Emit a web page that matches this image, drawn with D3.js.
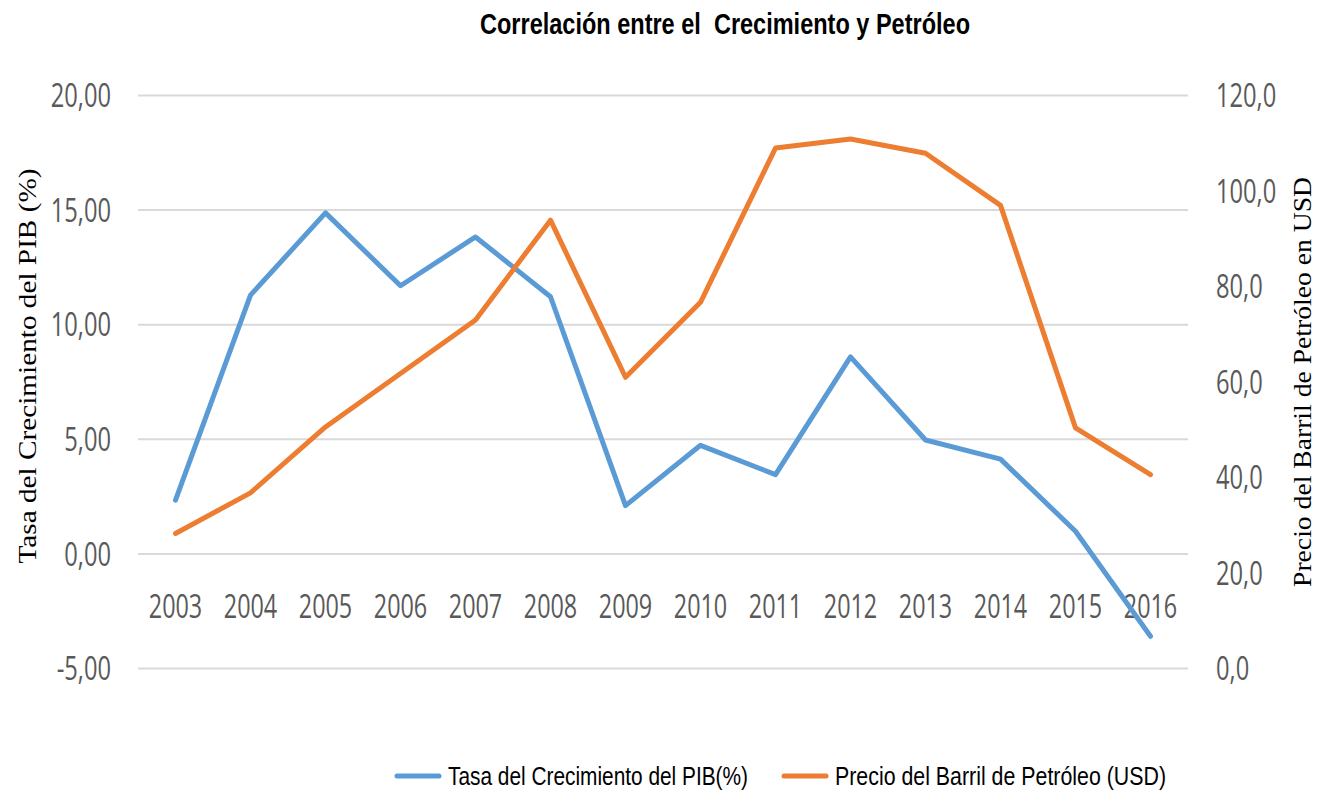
<!DOCTYPE html>
<meta charset="utf-8">
<style type="text/css">
    body { margin: 0; background: #fff; }
    /* lines */
    .line { fill: none; stroke-width: 5; stroke-linejoin: round; stroke-linecap: round; }
    .grid line { stroke: #d9d9d9; stroke-width: 2; }
    .tick-label { font-family: "Open Sans", sans-serif; font-size: 32px; fill: #595959; }
    .axis-title { font-family: "Liberation Serif", serif; font-size: 26px; fill: #000; }
</style>
<body>
</body>
<script src="https://cdn.jsdelivr.net/npm/d3@7"></script>
<script>

    // data
    var years = ["2003", "2004", "2005", "2006", "2007", "2008", "2009", "2010", "2011", "2012", "2013", "2014", "2015", "2016"];
    var pib = [2.35, 11.29, 14.88, 11.70, 13.83, 11.22, 2.11, 4.74, 3.46, 8.60, 4.97, 4.14, 0.99, -3.59];
    var petroleo = [28.3, 36.8, 50.6, 61.8, 73.0, 93.9, 61.0, 76.7, 109.0, 110.9, 107.9, 97.0, 50.4, 40.6];
    var leftTicks = [-5, 0, 5, 10, 15, 20];
    var rightTicks = [0, 20, 40, 60, 80, 100, 120];

    var W = 1325, H = 796;
    var plot = {left: 138, right: 1188, top: 95.5, bottom: 668.6};

    var svg = d3.select("body").append("svg")
        .attr("width", W)
        .attr("height", H);

    // squeeze text horizontally, the picture is narrow-looking
    function squash(sel, f) {
        sel.each(function() {
            var w = this.getComputedTextLength();
            d3.select(this).attr("textLength", w * f).attr("lengthAdjust", "spacingAndGlyphs");
        });
    }
    function fitTo(sel, len) {
        sel.attr("textLength", len).attr("lengthAdjust", "spacingAndGlyphs");
    }

    var x = d3.scaleBand().domain(years).range([plot.left, plot.right]);
    var yL = d3.scaleLinear().domain([-5, 20]).range([plot.bottom, plot.top]);
    var yR = d3.scaleLinear().domain([0, 120]).range([plot.bottom, plot.top]);

    var comma = function(fmt) { return function(v) { return d3.format(fmt)(v).replace(".", ",").replace("−", "-"); }; };

    // gridlines
    svg.append("g").attr("class", "grid")
        .selectAll("line").data(leftTicks).enter().append("line")
        .attr("x1", plot.left).attr("x2", plot.right)
        .attr("y1", function(d) { return yL(d); })
        .attr("y2", function(d) { return yL(d); });

    // left tick labels
    svg.append("g").selectAll("text").data(leftTicks).enter().append("text")
        .attr("class", "tick-label")
        .attr("x", 111)
        .attr("y", function(d) { return yL(d); })
        .attr("dy", "0.36em")
        .attr("text-anchor", "end")
        .text(comma(".2f"))
        .call(squash, 0.74);

    // right tick labels
    svg.append("g").selectAll("text").data(rightTicks).enter().append("text")
        .attr("class", "tick-label")
        .attr("x", 1216)
        .attr("y", function(d) { return yR(d); })
        .attr("dy", "0.36em")
        .attr("text-anchor", "start")
        .text(comma(".1f"))
        .call(squash, 0.74);

    // year labels
    svg.append("g").selectAll("text").data(years).enter().append("text")
        .attr("class", "tick-label")
        .attr("x", function(d) { return x(d) + x.bandwidth() / 2; })
        .attr("y", 618)
        .attr("text-anchor", "middle")
        .text(function(d) { return d; })
        .call(squash, 0.73);

    // lines
    var linePib = d3.line()
        .x(function(d, i) { return x(years[i]) + x.bandwidth() / 2; })
        .y(function(d) { return yL(d); });
    var linePet = d3.line()
        .x(function(d, i) { return x(years[i]) + x.bandwidth() / 2; })
        .y(function(d) { return yR(d); });

    svg.append("path").datum(pib)
        .attr("class", "line").attr("stroke", "#5b9bd5")
        .attr("d", linePib);
    svg.append("path").datum(petroleo)
        .attr("class", "line").attr("stroke", "#ed7d31")
        .attr("d", linePet);

    // title
    svg.append("text")
        .attr("x", 725).attr("y", 34)
        .attr("text-anchor", "middle")
        .style("font-family", "'Liberation Sans', Arial, sans-serif")
        .style("font-weight", "bold")
        .style("font-size", "29px")
        .style("white-space", "pre")
        .text("Correlación entre el  Crecimiento y Petróleo")
        .call(fitTo, 490);

    // axis titles
    svg.append("text")
        .attr("class", "axis-title")
        .attr("transform", "translate(36,366) rotate(-90)")
        .attr("text-anchor", "middle")
        .text("Tasa del Crecimiento del PIB (%)")
        .call(fitTo, 395);

    svg.append("text")
        .attr("class", "axis-title")
        .attr("transform", "translate(1311,382) rotate(-90)")
        .attr("text-anchor", "middle")
        .text("Precio del Barril de Petróleo en USD")
        .call(fitTo, 410);

    // legend
    var legend = [
        {label: "Tasa del Crecimiento del PIB(%)", color: "#5b9bd5", x: 397, len: 300},
        {label: "Precio del Barril de Petróleo (USD)", color: "#ed7d31", x: 784, len: 331}
    ];
    var lg = svg.append("g").selectAll("g").data(legend).enter().append("g")
        .attr("transform", function(d) { return "translate(" + d.x + ",776)"; });
    lg.append("line")
        .attr("x1", 0).attr("x2", 42)
        .attr("stroke", function(d) { return d.color; })
        .attr("stroke-width", 5)
        .attr("stroke-linecap", "round");
    lg.append("text")
        .attr("x", 51).attr("dy", "0.36em")
        .style("font-family", "'Liberation Sans', Arial, sans-serif")
        .style("font-size", "25px")
        .attr("fill", "#000")
        .text(function(d) { return d.label; })
        .each(function(d) { d3.select(this).call(fitTo, d.len); });

</script>
